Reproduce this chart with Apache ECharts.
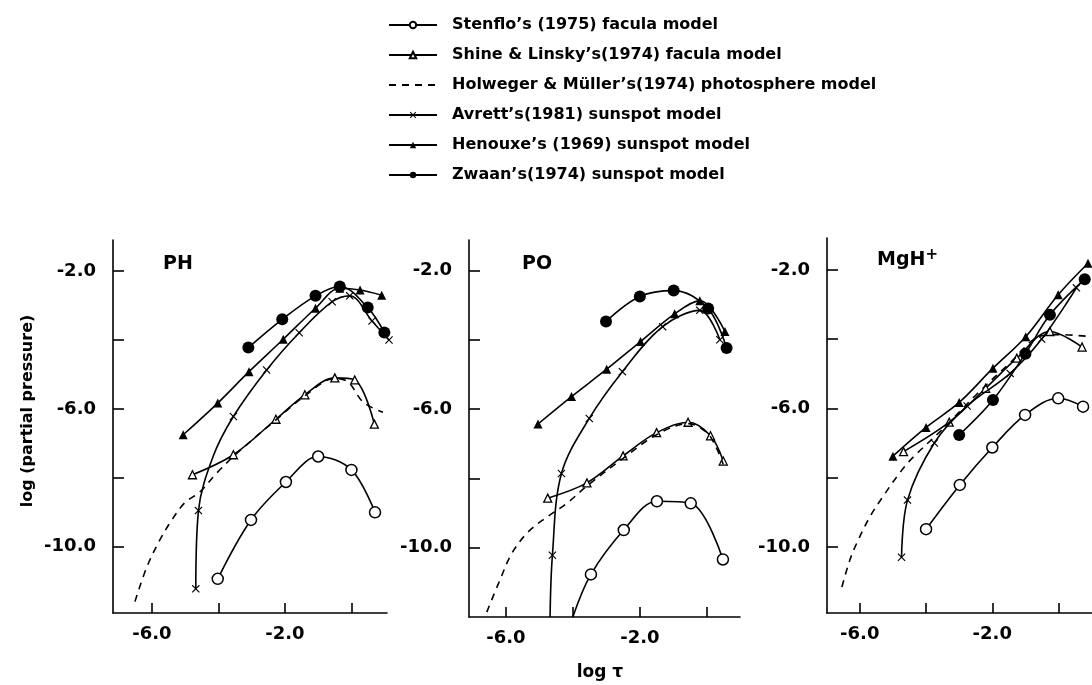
<!DOCTYPE html>
<html><head><meta charset="utf-8">
<script src="https://cdn.jsdelivr.net/npm/echarts@6/dist/echarts.min.js"></script>
<style>html,body{margin:0;padding:0;background:#fff}#c{width:1092px;height:685px}</style>
</head><body><div id="c"></div>
<script>
// ---------- labels ----------
const modelNames = [
  "Stenflo’s (1975) facula model",
  "Shine & Linsky’s(1974) facula model",
  "Holweger & Müller’s(1974) photosphere model",
  "Avrett’s(1981) sunspot model",
  "Henouxe’s (1969) sunspot model",
  "Zwaan’s(1974) sunspot model"
];
const panelNames = ["PH", "PO", "MgH+"];
const xTicks = [-6, -4, -2, 0];
const xTickLabels = [-6, -2];
const yTicks = [-2, -4, -6, -8, -10];
const yTickLabels = [-2, -6, -10];

// ---------- PH : [log tau, log partial pressure] ----------
const stenfloPH  = [[-4.02,-10.93],[-3.02,-9.22],[-1.97,-8.12],[-1.0,-7.38],[0.0,-7.77],[0.71,-9.0]];
const shinePH    = [[-4.78,-7.91],[-3.55,-7.33],[-2.27,-6.3],[-1.4,-5.59],[-0.5,-5.1],[0.1,-5.16],[0.69,-6.44]];
const holwegerPH = [[-6.51,-11.59],[-6.15,-10.58],[-5.76,-9.8],[-5.4,-9.22],[-5.01,-8.72],[-4.56,-8.41],[-4.05,-7.86],[-3.56,-7.39],[-2.96,-6.88],[-2.27,-6.32],[-1.4,-5.62],[-0.5,-5.12],[-0.1,-5.22],[0.35,-5.8],[0.95,-6.1]];
const avrettPH   = [[-4.68,-11.22],[-4.6,-8.95],[-4.16,-7.38],[-3.55,-6.22],[-2.55,-4.87],[-1.57,-3.79],[-0.58,-2.89],[-0.05,-2.72],[0.62,-3.45],[1.13,-4.0]];
const avrettPHCurveOnly = [2];
const henouxPH   = [[-5.06,-6.75],[-4.02,-5.83],[-3.08,-4.92],[-2.05,-3.98],[-1.08,-3.08],[-0.35,-2.5],[0.26,-2.55],[0.91,-2.7]];
const zwaanPH    = [[-3.1,-4.22],[-2.08,-3.4],[-1.08,-2.72],[-0.35,-2.45],[0.49,-3.06],[0.99,-3.78]];

// ---------- PO ----------
const stenfloPO  = [[-4.0,-12.0],[-3.46,-10.77],[-2.48,-9.49],[-1.49,-8.66],[-0.48,-8.72],[0.48,-10.34]];
const stenfloPOCurveOnly = [0];
const shinePO    = [[-4.75,-8.57],[-3.58,-8.13],[-2.5,-7.35],[-1.5,-6.68],[-0.56,-6.38],[0.11,-6.77],[0.49,-7.5]];
const holwegerPO = [[-6.57,-11.86],[-6.18,-10.94],[-5.82,-10.16],[-5.34,-9.55],[-4.78,-9.12],[-4.18,-8.72],[-3.58,-8.22],[-2.5,-7.42],[-1.5,-6.74],[-0.56,-6.42],[0.0,-6.68],[0.3,-7.15],[0.49,-7.6]];
const avrettPO   = [[-4.68,-12.0],[-4.61,-10.22],[-4.34,-7.86],[-3.51,-6.27],[-2.52,-4.92],[-1.32,-3.62],[-0.21,-3.15],[0.39,-4.0]];
const avrettPOCurveOnly = [0];
const henouxPO   = [[-5.04,-6.43],[-4.04,-5.64],[-2.99,-4.85],[-1.98,-4.05],[-0.96,-3.25],[-0.21,-2.87],[0.54,-3.76]];
const zwaanPO    = [[-3.01,-3.47],[-2.0,-2.75],[-0.99,-2.58],[0.04,-3.1],[0.59,-4.24]];

// ---------- MgH+ ----------
const stenfloMg  = [[-4.0,-9.49],[-2.98,-8.21],[-2.0,-7.13],[-1.01,-6.19],[-0.01,-5.71],[0.74,-5.95]];
const shineMg    = [[-4.68,-7.25],[-3.3,-6.4],[-2.2,-5.42],[-1.26,-4.55],[-0.26,-3.78],[0.71,-4.23]];
const holwegerMg = [[-6.54,-11.16],[-6.3,-10.38],[-6.09,-9.89],[-5.7,-9.14],[-5.31,-8.56],[-4.8,-7.87],[-4.41,-7.43],[-3.5,-6.6],[-2.5,-5.62],[-1.5,-4.72],[-0.5,-3.9],[0.0,-3.87],[1.0,-3.93]];
const avrettMg   = [[-4.74,-10.3],[-4.56,-8.65],[-3.75,-7.0],[-2.76,-5.93],[-1.46,-4.99],[-0.51,-4.0],[0.54,-2.52]];
const henouxMg   = [[-5.0,-7.38],[-4.0,-6.55],[-3.0,-5.83],[-1.98,-4.84],[-0.99,-3.93],[-0.01,-2.72],[0.89,-1.81]];
const zwaanMg    = [[-3.0,-6.77],[-1.98,-5.76],[-1.0,-4.42],[-0.26,-3.3],[0.79,-2.27]];

// ---------- styles ----------
const FONT = 'DejaVu Sans';
const crossPath = 'path://M0,1L1,0L5,4L9,0L10,1L6,5L10,9L9,10L5,6L1,10L0,9L4,5Z';
const styles = [
  {symbol:'circle', symbolSize:11, itemStyle:{color:'#fff', borderColor:'#000', borderWidth:1.5}},
  {symbol:'none', symbolSize:0, itemStyle:{color:'#000', opacity:0}, lineType:[7,6]},
  null,
  {symbol:crossPath, symbolSize:8, itemStyle:{color:'#000'}},
  {symbol:'triangle', symbolSize:9, itemStyle:{color:'#000'}},
  {symbol:'circle', symbolSize:12, itemStyle:{color:'#000'}}
];
styles[2] = styles[1];
styles[1] = {symbol:'triangle', symbolSize:8, itemStyle:{color:'#fff', borderColor:'#000', borderWidth:1.3}};

function pts(arr, curveOnly) {
  return arr.map((p, i) => (curveOnly && curveOnly.includes(i)) ? {value: p, symbol: 'none'} : p);
}

const panels = [
  [stenfloPH, shinePH, holwegerPH, pts(avrettPH, avrettPHCurveOnly), henouxPH, zwaanPH],
  [pts(stenfloPO, stenfloPOCurveOnly), shinePO, holwegerPO, pts(avrettPO, avrettPOCurveOnly), henouxPO, zwaanPO],
  [stenfloMg, shineMg, holwegerMg, avrettMg, henouxMg, zwaanMg]
];

const series = [];
panels.forEach((sets, g) => {
  sets.forEach((d, k) => {
    const s = styles[k];
    series.push({
      type: 'line', name: modelNames[k], xAxisIndex: g, yAxisIndex: g,
      data: d, smooth: 0.35, clip: false, animation: false,
      symbol: s.symbol, symbolSize: s.symbolSize, showSymbol: s.symbol !== 'none',
      itemStyle: s.itemStyle,
      lineStyle: {color:'#000', width:1.6, type: s.lineType || 'solid'},
      z: 2 + k
    });
  });
});

const grids = [
  {left:113, top:240, width:274, height:373},
  {left:469, top:240, width:271, height:377},
  {left:827, top:238, width:268, height:375}
];
const xr = [[-7.17,1.07],[-7.1,0.99],[-6.99,1.01]];
const yr = [[-11.92,-1.1],[-12.0,-1.12],[-11.91,-1.08]];

const axisLine = {show:true, onZero:false, lineStyle:{color:'#000', width:1.6}};
const labelStyle = {color:'#000', fontFamily:FONT, fontWeight:'bold', fontSize:18};

const xAxis = grids.map((g, i) => ({
  type:'value', gridIndex:i, min:xr[i][0], max:xr[i][1],
  axisLine, splitLine:{show:false},
  axisTick:{show:true, inside:true, length:10, customValues:xTicks, lineStyle:{color:'#000', width:1.6}},
  axisLabel:Object.assign({margin:12, customValues:xTickLabels, formatter:v => v.toFixed(1)}, labelStyle)
}));
const yAxis = grids.map((g, i) => ({
  type:'value', gridIndex:i, min:yr[i][0], max:yr[i][1],
  axisLine, splitLine:{show:false},
  axisTick:{show:true, inside:true, length:11, customValues:yTicks, lineStyle:{color:'#000', width:1.6}},
  axisLabel:Object.assign({margin:17, customValues:yTickLabels, formatter:v => v.toFixed(1)}, labelStyle)
}));

const chart = echarts.init(document.getElementById('c'), null, {renderer:'canvas'});
chart.setOption({
  backgroundColor:'#fff',
  animation:false,
  grid: grids,
  xAxis, yAxis,
  legend: {
    data: modelNames, orient:'vertical', left:383, top:11,
    itemWidth:48, itemHeight:8, itemGap:12,
    selectedMode:false,
    textStyle:{color:'#000', fontFamily:FONT, fontWeight:'bold', fontSize:16, lineHeight:18, padding:[0,0,0,10]}
  },
  graphic: [
    {type:'text', left:163, top:255, style:{text:panelNames[0], font:'bold 19px "DejaVu Sans"', fill:'#000'}},
    {type:'text', left:522, top:255, style:{text:panelNames[1], font:'bold 19px "DejaVu Sans"', fill:'#000'}},
    {type:'text', left:877, top:248, style:{text:'MgH{s|+}', font:'bold 19px "DejaVu Sans"', fill:'#000',
      rich:{s:{fontSize:15, fontWeight:'bold', fontFamily:FONT, verticalAlign:'top', padding:[0,0,10,0]}}}},
    {type:'text', x:28, y:411, rotation:Math.PI/2, style:{text:'log (partial pressure)', font:'bold 16px "DejaVu Sans"', fill:'#000', align:'center', verticalAlign:'middle'}},
    {type:'text', x:600, y:673, style:{text:'log τ', font:'bold 17px "DejaVu Sans"', fill:'#000', align:'center', verticalAlign:'middle'}}
  ],
  series
});
</script></body></html>
